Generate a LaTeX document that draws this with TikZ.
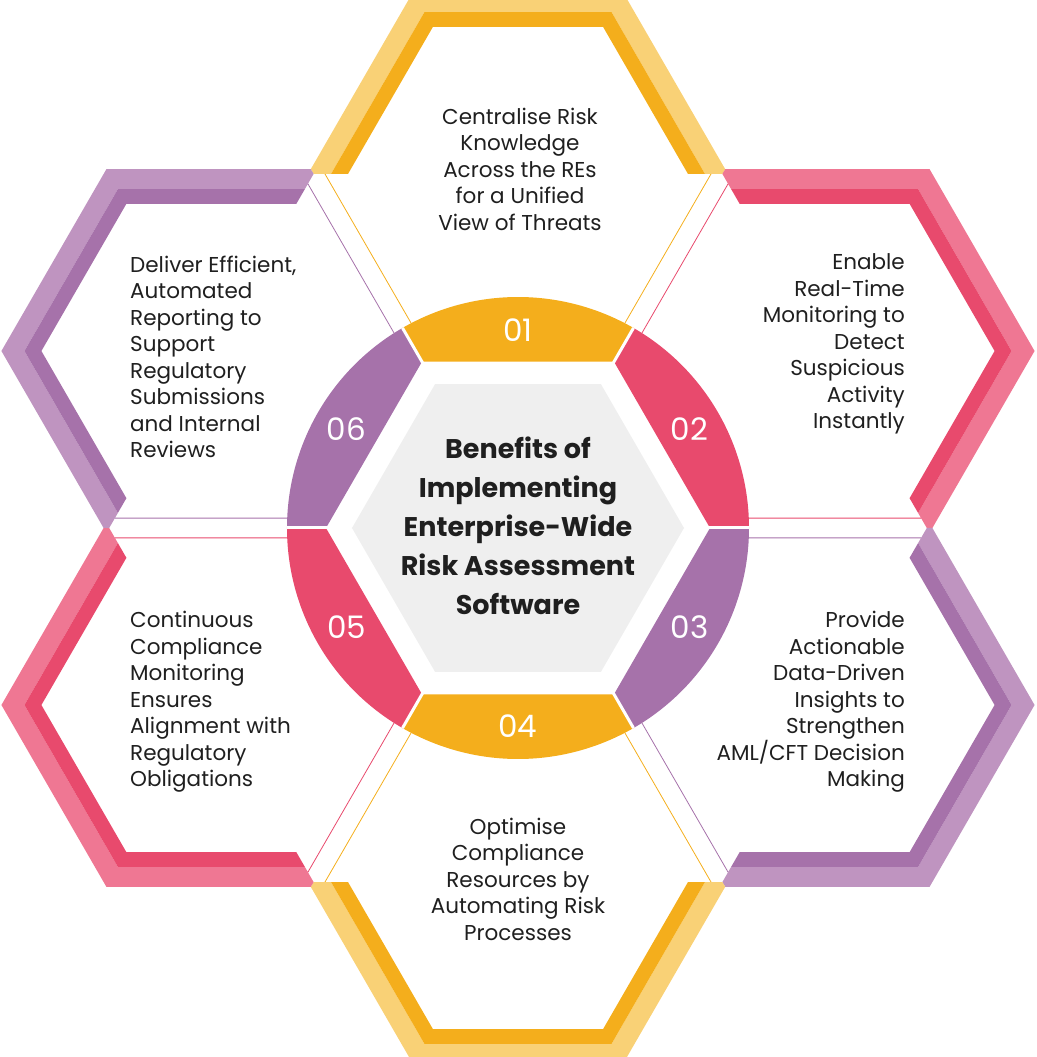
\documentclass[tikz,border=0pt]{standalone}
\usepackage{fontspec}
\setmainfont{Poppins}
\definecolor{yl}{HTML}{F9D176}\definecolor{yd}{HTML}{F4AE1C}
\definecolor{pl}{HTML}{EF7793}\definecolor{pd}{HTML}{E84A6D}
\definecolor{ul}{HTML}{BF94C0}\definecolor{ud}{HTML}{A672AA}
\definecolor{cg}{HTML}{EFEFEF}
\newcommand\hexp[2]{(#1)+(0:#2) -- +(60:#2) -- +(120:#2) -- +(180:#2) -- +(240:#2) -- +(300:#2) -- cycle}
\newcommand\hexcell[4]{% angle, light, dark, name
  \coordinate (#4) at (#1:354);
  \draw[#3, line width=0.8pt] \hexp{#4}{193};
  \begin{scope}
    \clip (#1-30:408.8) -- (#1-30:900) -- (#1+30:900) -- (#1+30:408.8) -- cycle;
    \fill[#2, even odd rule] \hexp{#4}{210} \hexp{#4}{187};
    \fill[#3, even odd rule] \hexp{#4}{187} \hexp{#4}{170};
  \end{scope}}
\newcommand\seg[3]{% angle, color, label
  \fill[#2] (#1-30:192) -- (#1-30:231) arc[start angle=#1-30, end angle=#1+30, radius=231] -- (#1+30:192) -- cycle;
  \node[numtxt] (n#3) at (#1:198) {#3};}
\tikzset{
  txt/.style={font=\fontsize{21.5}{26.5}\selectfont, inner sep=0pt, text=black!88},
  numtxt/.style={font=\fontsize{31}{36}\selectfont, text=white, inner sep=0pt},
}
\begin{document}
\begin{tikzpicture}[x=1pt,y=1pt]
\useasboundingbox (-518,-529) rectangle (518,528);
\hexcell{90}{yl}{yd}{h1}
\hexcell{30}{pl}{pd}{h2}
\hexcell{-30}{ul}{ud}{h3}
\hexcell{-90}{yl}{yd}{h4}
\hexcell{-150}{pl}{pd}{h5}
\hexcell{150}{ul}{ud}{h6}
\seg{90}{yd}{01}
\seg{30}{pd}{02}
\seg{-30}{ud}{03}
\seg{-90}{yd}{04}
\seg{-150}{pd}{05}
\seg{150}{ud}{06}
\foreach \a in {0,60,...,300} \draw[white, line width=3pt] (0,0) -- (\a:231);
\fill[cg] (0:166) -- (60:166) -- (120:166) -- (180:166) -- (240:166) -- (300:166) -- cycle;
\node[font=\bfseries\fontsize{27}{39}\selectfont, align=center, text=black!88, inner sep=0pt] (c) at (0,2)
 {Benefits of\\Implementing\\Enterprise-Wide\\Risk Assessment\\Software};
\node[txt, align=center] (t1) at (2,359) {Centralise Risk\\Knowledge\\Across the REs\\for a Unified\\View of Threats};
\node[txt, align=right, anchor=east] (t2) at (387,184) {Enable\\Real-Time\\Monitoring to\\Detect\\Suspicious\\Activity\\Instantly};
\node[txt, align=right, anchor=east] (t3) at (387,-174) {Provide\\Actionable\\Data-Driven\\Insights to\\Strengthen\\AML/CFT Decision\\Making};
\node[txt, align=center] (t4) at (0,-351) {Optimise\\Compliance\\Resources by\\Automating Risk\\Processes};
\node[txt, align=left, anchor=west] (t5) at (-388,-174) {Continuous\\Compliance\\Monitoring\\Ensures\\Alignment with\\Regulatory\\Obligations};
\node[txt, align=left, anchor=west] (t6) at (-388,171) {Deliver Efficient,\\Automated\\Reporting to\\Support\\Regulatory\\Submissions\\and Internal\\Reviews};
\end{tikzpicture}
\end{document}
